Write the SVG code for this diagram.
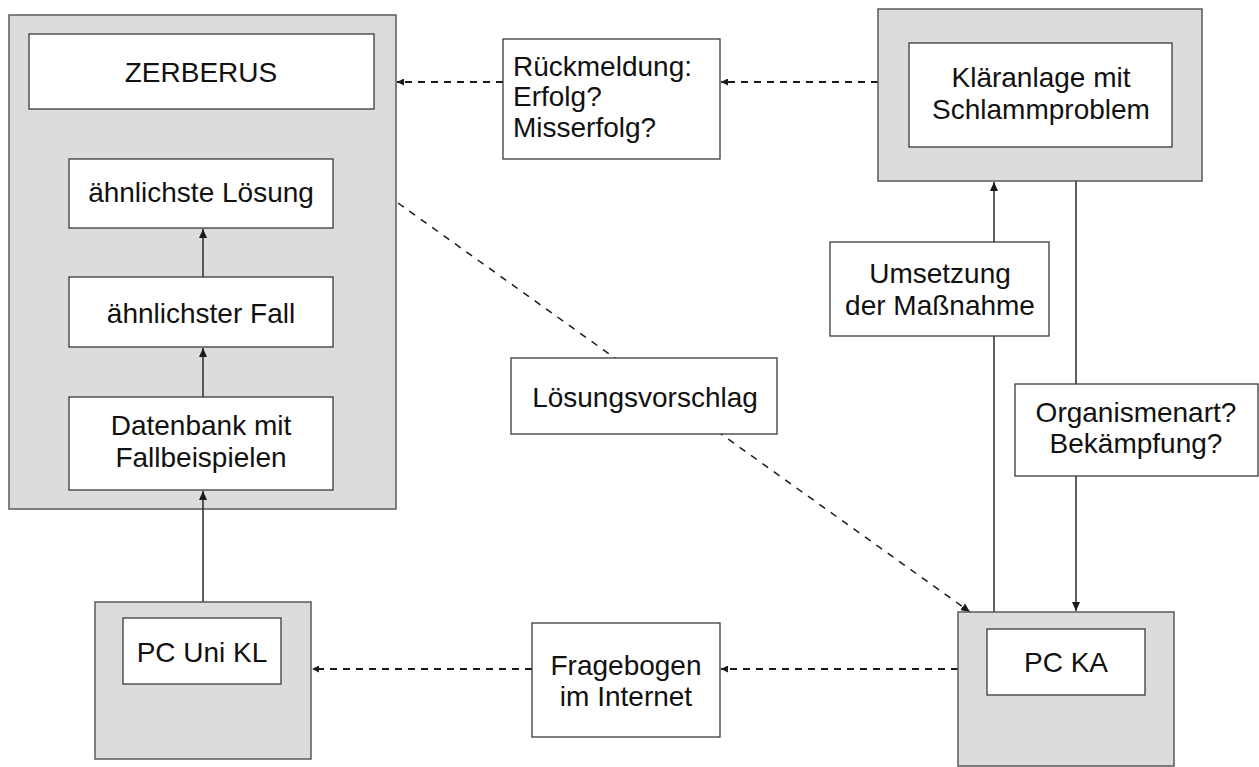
<svg xmlns="http://www.w3.org/2000/svg" width="1259" height="767" viewBox="0 0 1259 767">
<style>
.outer{fill:#dcdcdc;stroke:#5a5a5a;stroke-width:1.5}
.inner{fill:#fff;stroke:#3a3a3a;stroke-width:1.3}
.t{font-family:"Liberation Sans",Arial,sans-serif;font-size:28px;fill:#111;text-anchor:middle}
.tl{font-family:"Liberation Sans",Arial,sans-serif;font-size:28px;fill:#111;text-anchor:start}
.solid{stroke:#2a2a2a;stroke-width:1.5;fill:none}
.dash{stroke:#1a1a1a;stroke-width:2;fill:none;stroke-dasharray:7 6}
.dash2{stroke:#1a1a1a;stroke-width:1.5;fill:none;stroke-dasharray:7 7}
</style>
<defs>
<marker id="ah" markerUnits="userSpaceOnUse" markerWidth="10" markerHeight="8" refX="9" refY="4" orient="auto">
<path d="M0,0 L9,4 L0,8 z" fill="#1a1a1a"/>
</marker>
<marker id="ahs" markerUnits="userSpaceOnUse" markerWidth="8" markerHeight="7" refX="7" refY="3.5" orient="auto">
<path d="M0,0 L7,3.5 L0,7 z" fill="#1a1a1a"/>
</marker>
</defs>
<rect width="1259" height="767" fill="#fff"/>

<g id="zerberus">
<rect class="outer" x="9" y="15" width="387" height="494"/>
<rect class="inner" x="29" y="34" width="345" height="75"/>
<text class="t" x="201" y="82">ZERBERUS</text>
</g>

<g id="connectors">
<line class="solid" x1="203" y1="602" x2="203" y2="491" marker-end="url(#ah)"/>
<line class="solid" x1="203" y1="397" x2="203" y2="348" marker-end="url(#ah)"/>
<line class="solid" x1="203" y1="277" x2="203" y2="229" marker-end="url(#ah)"/>
<line class="solid" x1="994" y1="612" x2="994" y2="182" marker-end="url(#ah)"/>
<line class="solid" x1="1076" y1="181" x2="1076" y2="611" marker-end="url(#ah)"/>
<line class="dash" x1="878" y1="82" x2="721" y2="82" marker-end="url(#ahs)"/>
<line class="dash" x1="503" y1="82" x2="397" y2="82" marker-end="url(#ahs)"/>
<line class="dash2" x1="398" y1="203" x2="970" y2="612" marker-end="url(#ah)"/>
<line class="dash" x1="958" y1="669" x2="721" y2="669" marker-end="url(#ahs)"/>
<line class="dash" x1="532" y1="669" x2="312" y2="669" marker-end="url(#ahs)"/>
</g>

<g id="loesung">
<rect class="inner" x="69" y="159" width="264" height="69"/>
<text class="t" x="201" y="202">ähnlichste Lösung</text>
</g>
<g id="fall">
<rect class="inner" x="69" y="277" width="264" height="70"/>
<text class="t" x="201" y="323">ähnlichster Fall</text>
</g>
<g id="datenbank">
<rect class="inner" x="69" y="397" width="264" height="93"/>
<text class="t" x="201" y="435">Datenbank mit</text>
<text class="t" x="201" y="467">Fallbeispielen</text>
</g>
<g id="pc-uni">
<rect class="outer" x="95" y="602" width="216" height="157"/>
<rect class="inner" x="123" y="618" width="158" height="66"/>
<text class="t" x="202" y="662">PC Uni KL</text>
</g>
<g id="rueckmeldung">
<rect class="inner" x="503" y="39" width="217" height="120"/>
<text class="tl" x="513" y="76">Rückmeldung:</text>
<text class="tl" x="513" y="106">Erfolg?</text>
<text class="tl" x="513" y="137">Misserfolg?</text>
</g>
<g id="klaeranlage">
<rect class="outer" x="878" y="9" width="324" height="172"/>
<rect class="inner" x="909" y="43" width="263" height="104"/>
<text class="t" x="1041" y="87">Kläranlage mit</text>
<text class="t" x="1041" y="119">Schlammproblem</text>
</g>
<g id="umsetzung">
<rect class="inner" x="830" y="242" width="219" height="94"/>
<text class="t" x="940" y="283">Umsetzung</text>
<text class="t" x="940" y="315">der Maßnahme</text>
</g>
<g id="loesungsvorschlag">
<rect class="inner" x="511" y="358" width="266" height="76"/>
<text class="t" x="645" y="407">Lösungsvorschlag</text>
</g>
<g id="organismenart">
<rect class="inner" x="1015" y="384" width="243" height="92"/>
<text class="t" x="1136" y="422">Organismenart?</text>
<text class="t" x="1136" y="453">Bekämpfung?</text>
</g>
<g id="fragebogen">
<rect class="inner" x="532" y="623" width="188" height="114"/>
<text class="t" x="626" y="675">Fragebogen</text>
<text class="t" x="626" y="706">im Internet</text>
</g>
<g id="pc-ka">
<rect class="outer" x="958" y="612" width="216" height="154"/>
<rect class="inner" x="987" y="629" width="158" height="66"/>
<text class="t" x="1066" y="672">PC KA</text>
</g>
</svg>
